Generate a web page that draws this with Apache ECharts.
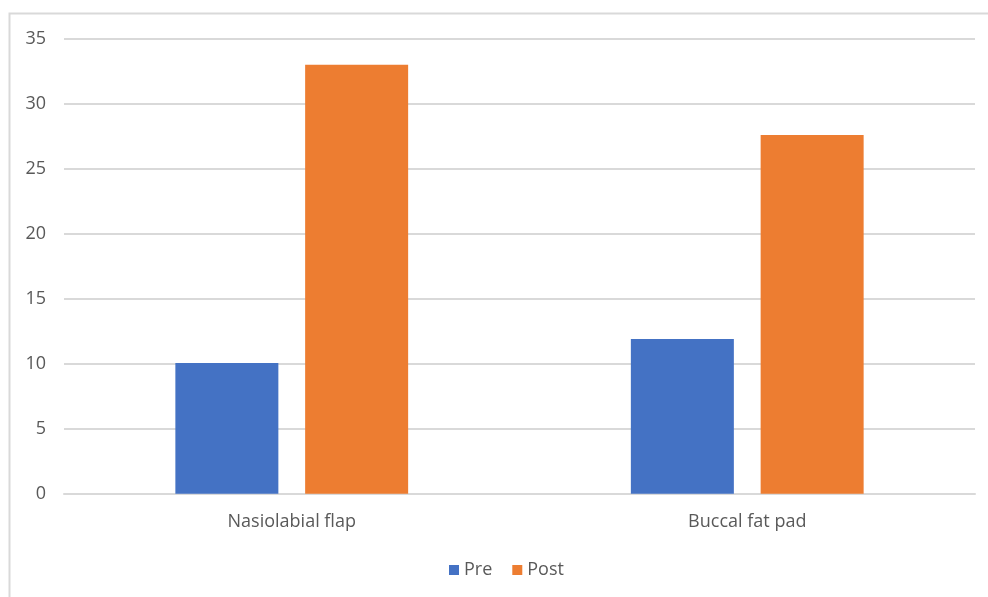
<!DOCTYPE html>
<html>
<head>
<meta charset="utf-8">
<script src="https://cdn.jsdelivr.net/npm/echarts@6/dist/echarts.min.js"></script>
<style>
html,body{margin:0;padding:0;background:#fff;}
#c{width:988px;height:597px;}
</style>
</head>
<body>
<div id="c"></div>
<script>
const categories = ['Nasiolabial flap', 'Buccal fat pad'];
const preValues = [10.05, 11.9];
const postValues = [33, 27.6];
const yTicks = [0, 5, 10, 15, 20, 25, 30, 35];

const chart = echarts.init(document.getElementById('c'), null, {renderer: 'canvas'});
const textColor = '#595959';
const font = 'Open Sans';
chart.setOption({
  animation: false,
  backgroundColor: '#fff',
  graphic: [{
    type: 'rect',
    shape: {x: 9.5, y: 13.5, width: 1000, height: 700},
    style: {fill: 'none', stroke: '#d9d9d9', lineWidth: 2},
    silent: true
  }],
  grid: {left: 64, right: 13, top: 38.7, bottom: 103.3, containLabel: false},
  legend: {
    data: ['Pre', 'Post'],
    top: 556,
    left: 444,
    itemWidth: 10,
    itemHeight: 10,
    itemGap: 20,
    icon: 'rect',
    textStyle: {color: textColor, fontSize: 18, fontFamily: font}
  },
  xAxis: {
    type: 'category',
    data: categories,
    axisLine: {show: true, lineStyle: {color: '#d9d9d9', width: 2}},
    axisTick: {show: false},
    axisLabel: {color: textColor, fontSize: 18, fontFamily: font, margin: 19}
  },
  yAxis: {
    type: 'value',
    min: yTicks[0],
    max: yTicks[yTicks.length - 1],
    interval: 5,
    axisLine: {show: false},
    axisTick: {show: false},
    splitLine: {lineStyle: {color: '#d9d9d9', width: 2}},
    axisLabel: {color: textColor, fontSize: 18, fontFamily: font, margin: 18}
  },
  series: [
    {name: 'Pre', type: 'bar', data: preValues, barWidth: 103, barGap: '26%',
     itemStyle: {color: '#4472C4'}},
    {name: 'Post', type: 'bar', data: postValues, barWidth: 103,
     itemStyle: {color: '#ED7D31'}}
  ]
});
</script>
</body>
</html>
